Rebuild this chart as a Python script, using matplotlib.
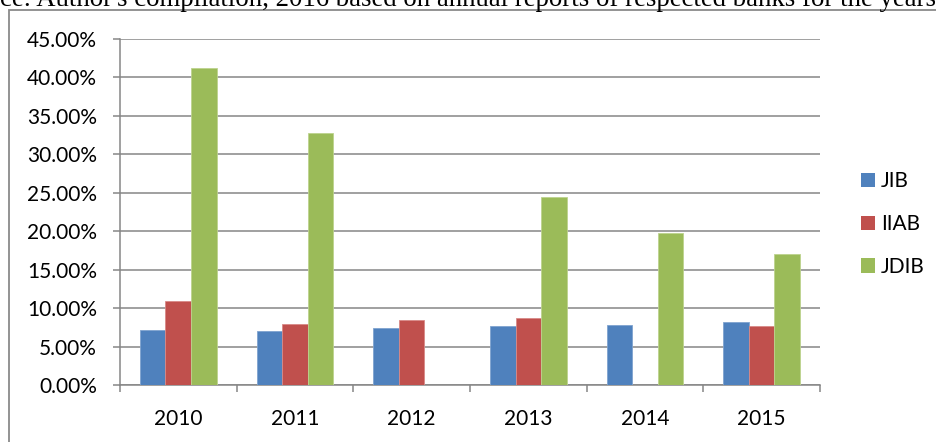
import numpy as np
import matplotlib
matplotlib.use("Agg")
import matplotlib.pyplot as plt
from matplotlib.patches import Rectangle
from matplotlib.ticker import FuncFormatter, FixedLocator

years = ["2010", "2011", "2012", "2013", "2014", "2015"]
jib = [7.15, 7.02, 7.46, 7.72, 7.85, 8.15]
iiab = [10.93, 7.94, 8.50, 8.67, np.nan, 7.68]
jdib = [41.2, 32.8, np.nan, 24.4, 19.78, 17.09]
series_names = ["JIB", "IIAB", "JDIB"]
colors = ["#4F81BD", "#C0504D", "#9BBB59"]
edge_colors = ["#7FA3CF", "#D98A88", "#BDD38E"]
source_text = "ce: Author's compilation, 2016 based on annual reports of respected banks for the years"

W, H = 936, 442
fig = plt.figure(figsize=(W / 100, H / 100), dpi=100)
font = ["Lato", "DejaVu Sans"]
fs = 15

# outer frame (extends beyond right/bottom edges)
fig.patches.append(Rectangle((9 / W, -0.1), 1.2, 1 - 10 / H + 0.1, transform=fig.transFigure,
                             fill=False, edgecolor="#8a8a8a", linewidth=1.3))

fig.text(0, 1 - 6 / H, source_text, family=["Liberation Serif"], fontsize=19.3,
         ha="left", va="baseline", color="black")

ax = fig.add_axes([120 / W, 1 - 385 / H, 700 / W, 346 / H])
x = np.arange(len(years))
bw = 0.22
for i, (vals, name) in enumerate(zip([jib, iiab, jdib], series_names)):
    ax.bar(x + (i - 1) * bw, vals, width=bw, color=colors[i], edgecolor=edge_colors[i],
           linewidth=0.6, label=name, zorder=3)

ax.set_xlim(-0.5, len(years) - 0.5)
ax.set_ylim(0, 45)
ax.set_yticks(np.arange(0, 45.1, 5))
ax.yaxis.set_major_formatter(FuncFormatter(lambda v, p: f"{v:.2f}%"))
ax.grid(axis="y", color="#868686", linewidth=1.1, zorder=0)
ax.set_axisbelow(True)

ax.set_xticks(x)
ax.set_xticklabels(years)
ax.xaxis.set_minor_locator(FixedLocator(np.arange(-0.5, len(years), 1.0)))
ax.tick_params(axis="x", which="major", length=0, pad=17, labelsize=fs)
ax.tick_params(axis="x", which="minor", length=5, color="#868686", width=1.1)
ax.tick_params(axis="y", which="major", length=5, color="#868686", width=1.1, pad=11.5, labelsize=fs)
for lab in ax.get_xticklabels() + ax.get_yticklabels():
    lab.set_family(font)

for s in ["top", "right"]:
    ax.spines[s].set_visible(False)
for s in ["left", "bottom"]:
    ax.spines[s].set_color("#868686")
    ax.spines[s].set_linewidth(1.1)

leg = ax.legend(loc="upper left", bbox_to_anchor=(861 / W, 1 - 171 / H), bbox_transform=fig.transFigure,
                frameon=False, prop={"family": font, "size": fs}, handlelength=0.66, handleheight=0.66,
                handletextpad=0.3, labelspacing=1.1, borderpad=0, borderaxespad=0)
for h in leg.legend_handles:
    h.set_linewidth(0)

fig.savefig("out.png", dpi=100)
